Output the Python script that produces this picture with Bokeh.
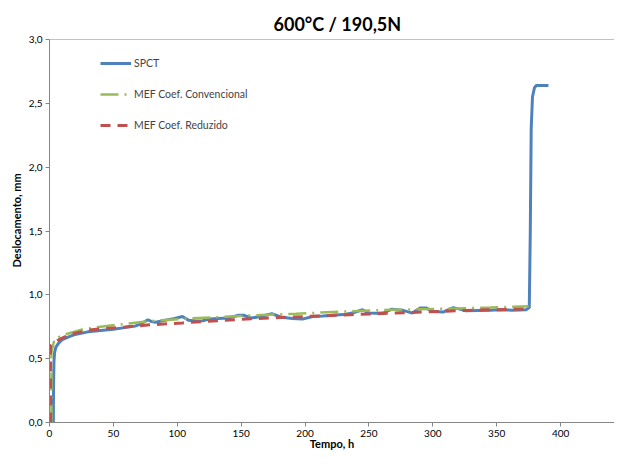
from bokeh.plotting import figure
from bokeh.models import FixedTicker, Legend, LegendItem, Range1d, Title, Span
from bokeh.embed import file_html
from bokeh.resources import INLINE

# ---- data ----
spct_t = [3.0, 3.2, 3.5, 4, 5, 7, 10, 15, 20, 30, 40, 50, 60, 67, 72, 77, 80, 83, 90, 98,
          104, 109, 115, 120, 125, 132, 140, 148, 152, 158, 165, 174, 182, 190, 198, 206,
          214, 221, 230, 237, 245, 250, 256, 261, 268, 276, 284, 290, 295, 300, 308, 316,
          321, 326, 335, 345, 352, 362, 373, 375.5, 376.3, 377, 378, 379.5, 381, 385, 390.5]
spct_v = [0.0, 0.3, 0.48, 0.55, 0.59, 0.62, 0.65, 0.67, 0.69, 0.71, 0.72, 0.73, 0.745, 0.755,
          0.775, 0.805, 0.79, 0.785, 0.80, 0.815, 0.83, 0.80, 0.795, 0.797, 0.81, 0.815, 0.818,
          0.84, 0.84, 0.818, 0.83, 0.852, 0.824, 0.815, 0.81, 0.83, 0.835, 0.84, 0.845, 0.857,
          0.883, 0.857, 0.855, 0.857, 0.888, 0.88, 0.857, 0.896, 0.896, 0.87, 0.865, 0.90,
          0.888, 0.875, 0.878, 0.88, 0.883, 0.88, 0.883, 0.9, 1.5, 2.3, 2.55, 2.62, 2.64, 2.64, 2.64]

conv_t = [1.5, 1.5, 4, 12, 25, 40, 57, 85, 110, 150, 193, 232, 269, 305, 345, 375]
conv_v = [0.0, 0.55, 0.655, 0.69, 0.727, 0.75, 0.77, 0.80, 0.815, 0.835, 0.852, 0.87, 0.883,
          0.89, 0.90, 0.91]

red_t = [0.8, 0.8, 2.4, 6.8, 12, 20, 33, 59, 80, 104, 135, 150, 190, 235, 279, 326, 375]
red_v = [0.0, 0.6, 0.615, 0.645, 0.67, 0.70, 0.727, 0.748, 0.766, 0.78, 0.80, 0.808, 0.826,
         0.844, 0.86, 0.878, 0.89]

x_ticks = [0, 50, 100, 150, 200, 250, 300, 350, 400, 450]
y_ticks = [0.0, 0.5, 1.0, 1.5, 2.0, 2.5, 3.0]
y_labels = ["0,0", "0,5", "1,0", "1,5", "2,0", "2,5", "3,0"]

title_text = "600°C / 190,5N"
x_label = "Tempo, h"
y_label = "Deslocamento, mm"
names = ["SPCT", "MEF Coef. Convencional", "MEF Coef. Reduzido"]

FONT = "Lato"
AXIS_GRAY = "#868686"

# visible part of the 0..450 axis at the reference's scale (right end is cut off)
p = figure(width=614, height=452, output_backend="svg", toolbar_location=None,
           x_range=Range1d(0, 442.2), y_range=Range1d(0, 3.0),
           min_border_left=49, min_border_right=0, min_border_top=39, min_border_bottom=30)

p.title.text = title_text
p.title.text_font = FONT
p.title.text_font_size = "18px"
p.title.text_font_style = "bold"
p.title.align = "left"
p.title.offset = 224
p.title.standoff = 10
p.title.text_color = "#000000"

p.xgrid.visible = False
p.ygrid.visible = False
p.outline_line_color = None
p.background_fill_color = "white"
p.border_fill_color = "white"

for ax in (p.xaxis[0], p.yaxis[0]):
    ax.axis_line_color = AXIS_GRAY
    ax.major_tick_line_color = AXIS_GRAY
    ax.minor_tick_line_color = None
    ax.major_tick_in = 0
    ax.major_tick_out = 4
    ax.major_label_text_font = FONT
    ax.major_label_text_font_size = "10px"
    ax.major_label_text_color = "#000000"
    ax.axis_label_text_font = FONT
    ax.axis_label_text_font_size = "11px"
    ax.axis_label_text_font_style = "bold"
    ax.axis_label_text_color = "#000000"

p.xaxis.ticker = FixedTicker(ticks=x_ticks)
p.yaxis.ticker = FixedTicker(ticks=y_ticks)
p.yaxis.major_label_overrides = {t: l for t, l in zip(y_ticks, y_labels)}
p.xaxis.axis_label = x_label
p.xaxis.major_label_standoff = 3
p.xaxis.axis_label_standoff = -3
p.yaxis.major_label_standoff = 3

ytitle = Title(text=y_label, align="left", offset=155, standoff=5,
               text_font=FONT, text_font_size="11px", text_font_style="bold",
               text_color="#000000")
p.add_layout(ytitle, "left")

# top edge of the plot area
p.add_layout(Span(location=3.0, dimension="width", line_color=AXIS_GRAY, line_width=1))

r1 = p.line(spct_t, spct_v, line_color="#4F81BD", line_width=3)
r2 = p.line(conv_t, conv_v, line_color="#9BBB59", line_width=2.5, line_dash="18 6 2 6")
r3 = p.line(red_t, red_v, line_color="#C0504D", line_width=3, line_dash="10 7")

legend = Legend(items=[LegendItem(label=names[0], renderers=[r1]),
                       LegendItem(label=names[1], renderers=[r2]),
                       LegendItem(label=names[2], renderers=[r3])],
                location=(51, 289), orientation="vertical",
                border_line_color=None, background_fill_alpha=0,
                label_text_font=FONT, label_text_font_size="10.5px",
                glyph_width=31, glyph_height=16, label_height=16, spacing=15,
                padding=0, margin=0, label_standoff=3)
p.add_layout(legend, "center")

open("out.html", "w").write(file_html(p, INLINE))
